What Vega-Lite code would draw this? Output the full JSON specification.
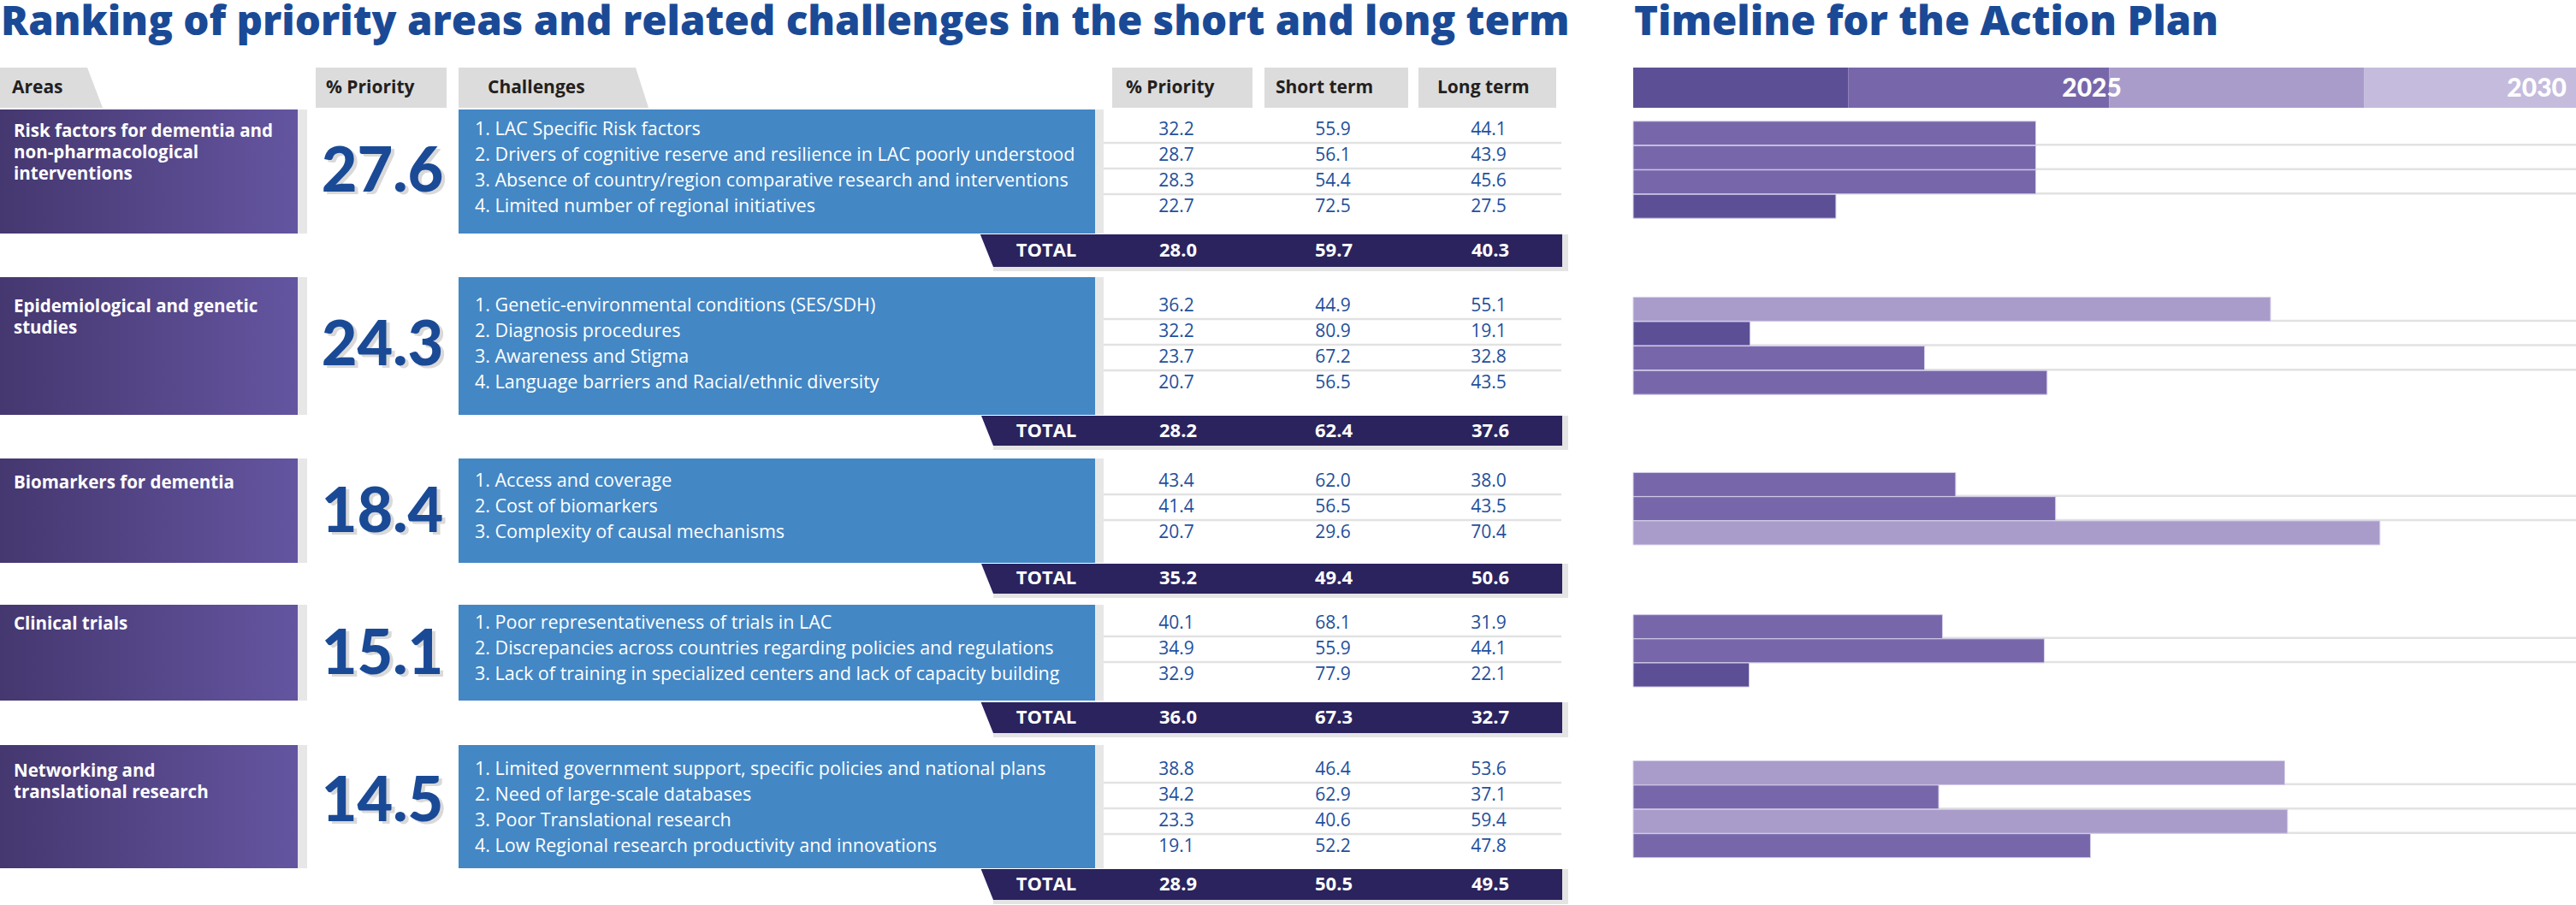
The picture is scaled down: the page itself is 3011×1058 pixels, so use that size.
{
"$schema":"https://vega.github.io/schema/vega-lite/v6.json",
"padding":0,
"background":"white",
"config":{"view":{"stroke":null},"axis":{"disable":true},"legend":{"disable":true},"text":{"font":"Open Sans"}},
"datasets":{
"rows":[
{"kind":"area","rank":1,"area":"Risk factors for dementia and\nnon-pharmacological\ninterventions","area_priority":27.6,"total_priority":28.0,"total_short":59.7,"total_long":40.3},
{"kind":"challenge","rank":1,"no":1,"challenge":"1. LAC Specific Risk factors","priority":32.2,"short":55.9,"long":44.1,"end":2024.27,"phase":"Phase 2"},
{"kind":"challenge","rank":1,"no":2,"challenge":"2. Drivers of cognitive reserve and resilience in LAC poorly understood","priority":28.7,"short":56.1,"long":43.9,"end":2024.27,"phase":"Phase 2"},
{"kind":"challenge","rank":1,"no":3,"challenge":"3. Absence of country/region comparative research and interventions","priority":28.3,"short":54.4,"long":45.6,"end":2024.27,"phase":"Phase 2"},
{"kind":"challenge","rank":1,"no":4,"challenge":"4. Limited number of regional initiatives","priority":22.7,"short":72.5,"long":27.5,"end":2022.15,"phase":"Phase 1"},
{"kind":"area","rank":2,"area":"Epidemiological and genetic\nstudies","area_priority":24.3,"total_priority":28.2,"total_short":62.4,"total_long":37.6},
{"kind":"challenge","rank":2,"no":1,"challenge":"1. Genetic-environmental conditions (SES/SDH)","priority":36.2,"short":44.9,"long":55.1,"end":2026.76,"phase":"Phase 3"},
{"kind":"challenge","rank":2,"no":2,"challenge":"2. Diagnosis procedures","priority":32.2,"short":80.9,"long":19.1,"end":2021.24,"phase":"Phase 1"},
{"kind":"challenge","rank":2,"no":3,"challenge":"3. Awareness and Stigma","priority":23.7,"short":67.2,"long":32.8,"end":2023.09,"phase":"Phase 2"},
{"kind":"challenge","rank":2,"no":4,"challenge":"4. Language barriers and Racial/ethnic diversity","priority":20.7,"short":56.5,"long":43.5,"end":2024.39,"phase":"Phase 2"},
{"kind":"area","rank":3,"area":"Biomarkers for dementia","area_priority":18.4,"total_priority":35.2,"total_short":49.4,"total_long":50.6},
{"kind":"challenge","rank":3,"no":1,"challenge":"1. Access and coverage","priority":43.4,"short":62.0,"long":38.0,"end":2023.42,"phase":"Phase 2"},
{"kind":"challenge","rank":3,"no":2,"challenge":"2. Cost of biomarkers","priority":41.4,"short":56.5,"long":43.5,"end":2024.48,"phase":"Phase 2"},
{"kind":"challenge","rank":3,"no":3,"challenge":"3. Complexity of causal mechanisms","priority":20.7,"short":29.6,"long":70.4,"end":2027.92,"phase":"Phase 3"},
{"kind":"area","rank":4,"area":"Clinical trials","area_priority":15.1,"total_priority":36.0,"total_short":67.3,"total_long":32.7},
{"kind":"challenge","rank":4,"no":1,"challenge":"1. Poor representativeness of trials in LAC","priority":40.1,"short":68.1,"long":31.9,"end":2023.28,"phase":"Phase 2"},
{"kind":"challenge","rank":4,"no":2,"challenge":"2. Discrepancies across countries regarding policies and regulations","priority":34.9,"short":55.9,"long":44.1,"end":2024.36,"phase":"Phase 2"},
{"kind":"challenge","rank":4,"no":3,"challenge":"3. Lack of training in specialized centers and lack of capacity building","priority":32.9,"short":77.9,"long":22.1,"end":2021.23,"phase":"Phase 1"},
{"kind":"area","rank":5,"area":"Networking and\ntranslational research","area_priority":14.5,"total_priority":28.9,"total_short":50.5,"total_long":49.5},
{"kind":"challenge","rank":5,"no":1,"challenge":"1. Limited government support, specific policies and national plans","priority":38.8,"short":46.4,"long":53.6,"end":2026.91,"phase":"Phase 3"},
{"kind":"challenge","rank":5,"no":2,"challenge":"2. Need of large-scale databases","priority":34.2,"short":62.9,"long":37.1,"end":2023.24,"phase":"Phase 2"},
{"kind":"challenge","rank":5,"no":3,"challenge":"3. Poor Translational research","priority":23.3,"short":40.6,"long":59.4,"end":2026.94,"phase":"Phase 3"},
{"kind":"challenge","rank":5,"no":4,"challenge":"4. Low Regional research productivity and innovations","priority":19.1,"short":52.2,"long":47.8,"end":2024.85,"phase":"Phase 2"}
],
"phases":[
{"phase":"Phase 1","from":2020,"to":2022.28},
{"phase":"Phase 2","from":2022.28,"to":2025.05},
{"phase":"Phase 3","from":2025.05,"to":2027.75},
{"phase":"Phase 4","from":2027.75,"to":2030}
]
},
"spacing":0,
"resolve":{"scale":{"x":"independent","y":"independent"}},
"vconcat":[
{"hconcat":[
{"width":1850,"height":128,"data":{"values":[{}]},
"layer":[
{"mark":{"type":"text","align":"left","baseline":"alphabetic","fontSize":47.5,"fontWeight":800,"color":"#1a4a96"},"encoding":{"x":{"datum":1,"scale":{"domain":[0,1850],"nice":false,"zero":false}},"y":{"datum":41,"scale":{"domain":[0,128],"reverse":true,"nice":false,"zero":false}},"text":{"value":"Ranking of priority areas and related challenges in the short and long term"}}},
{"mark":{"type":"rect","color":"#dcdcdc"},"encoding":{"x":{"datum":0},"x2":{"datum":102},"y":{"datum":79},"y2":{"datum":126}}},
{"mark":{"type":"point","shape":"M0,-1L0,1L0.766,1Z","filled":true,"opacity":1,"color":"#dcdcdc","size":2209,"strokeWidth":0},"encoding":{"x":{"datum":102},"y":{"datum":102.5}}},
{"mark":{"type":"text","align":"left","baseline":"middle","fontSize":21,"fontWeight":"bold","color":"#231f20"},"encoding":{"x":{"datum":14},"y":{"datum":103},"text":{"value":"Areas"}}},
{"mark":{"type":"rect","color":"#dcdcdc"},"encoding":{"x":{"datum":369},"x2":{"datum":522},"y":{"datum":79},"y2":{"datum":126}}},
{"mark":{"type":"text","align":"left","baseline":"middle","fontSize":21,"fontWeight":"bold","color":"#231f20"},"encoding":{"x":{"datum":381},"y":{"datum":103},"text":{"value":"% Priority"}}},
{"mark":{"type":"rect","color":"#dcdcdc"},"encoding":{"x":{"datum":536},"x2":{"datum":743},"y":{"datum":79},"y2":{"datum":126}}},
{"mark":{"type":"point","shape":"M0,-1L0,1L0.64,1Z","filled":true,"opacity":1,"color":"#dcdcdc","size":2209,"strokeWidth":0},"encoding":{"x":{"datum":743},"y":{"datum":102.5}}},
{"mark":{"type":"text","align":"left","baseline":"middle","fontSize":21,"fontWeight":"bold","color":"#231f20"},"encoding":{"x":{"datum":570},"y":{"datum":103},"text":{"value":"Challenges"}}},
{"mark":{"type":"rect","color":"#dcdcdc"},"encoding":{"x":{"datum":1300},"x2":{"datum":1464},"y":{"datum":79},"y2":{"datum":126}}},
{"mark":{"type":"text","align":"left","baseline":"middle","fontSize":21,"fontWeight":"bold","color":"#231f20"},"encoding":{"x":{"datum":1316},"y":{"datum":103},"text":{"value":"% Priority"}}},
{"mark":{"type":"rect","color":"#dcdcdc"},"encoding":{"x":{"datum":1478},"x2":{"datum":1646},"y":{"datum":79},"y2":{"datum":126}}},
{"mark":{"type":"text","align":"left","baseline":"middle","fontSize":21,"fontWeight":"bold","color":"#231f20"},"encoding":{"x":{"datum":1491},"y":{"datum":103},"text":{"value":"Short term"}}},
{"mark":{"type":"rect","color":"#dcdcdc"},"encoding":{"x":{"datum":1658},"x2":{"datum":1819},"y":{"datum":79},"y2":{"datum":126}}},
{"mark":{"type":"text","align":"left","baseline":"middle","fontSize":21,"fontWeight":"bold","color":"#231f20"},"encoding":{"x":{"datum":1680},"y":{"datum":103},"text":{"value":"Long term"}}}
]},
{"width":1102,"height":128,"data":{"values":[{}]},
"layer":[
{"mark":{"type":"text","align":"left","baseline":"alphabetic","dx":1,"fontSize":47.5,"fontWeight":800,"color":"#1a4a96"},"encoding":{"x":{"datum":2020,"scale":{"domain":[2020,2030],"nice":false,"zero":false}},"y":{"datum":41,"scale":{"domain":[0,128],"reverse":true,"nice":false,"zero":false}},"text":{"value":"Timeline for the Action Plan"}}},
{"data":{"name":"phases"},"mark":{"type":"rect"},"encoding":{"x":{"field":"from","type":"quantitative"},"x2":{"field":"to"},"y":{"datum":79},"y2":{"datum":126},"color":{"field":"phase","type":"nominal","scale":{"domain":["Phase 1","Phase 2","Phase 3","Phase 4"],"range":["#5c4f96","#7767aa","#a99cca","#c5bcdd"]},"legend":null}}},
{"mark":{"type":"text","align":"right","baseline":"middle","font":"Lato","fontSize":30,"fontWeight":900,"color":"#ffffff"},"encoding":{"x":{"datum":2025.18},"y":{"datum":104},"text":{"value":"2025"}}},
{"mark":{"type":"text","align":"right","baseline":"middle","font":"Lato","fontSize":30,"fontWeight":900,"color":"#ffffff"},"encoding":{"x":{"datum":2029.9},"y":{"datum":104},"text":{"value":"2030"}}}
]}
],"spacing":59,"bounds":"flush","resolve":{"scale":{"x":"independent","y":"independent"}}},

{"hconcat":[
{"width":1850,"height":196,"data":{"name":"rows"},"transform":[{"filter":"datum.rank == 1"}],
"layer":[
{"transform":[{"filter":"datum.kind == 'area'"}],"mark":{"type":"rect","color":"#e7e7e7"},"encoding":{"x":{"datum":0,"scale":{"domain":[0,1850],"nice":false,"zero":false}},"x2":{"datum":359},"y":{"datum":0.2,"scale":{"domain":[0.2,6.7333],"reverse":true,"nice":false,"zero":false}},"y2":{"datum":5.0333}}},
{"transform":[{"filter":"datum.kind == 'area'"}],"mark":{"type":"rect","fill":{"gradient":"linear","x1":0,"y1":0,"x2":1,"y2":0,"stops":[{"offset":0,"color":"#45376f"},{"offset":1,"color":"#6455a1"}]}},"encoding":{"x":{"datum":0},"x2":{"datum":348},"y":{"datum":0.2},"y2":{"datum":5.0333}}},
{"transform":[{"filter":"datum.kind == 'area'"}],"mark":{"type":"rect","color":"#e7e7e7"},"encoding":{"x":{"datum":536},"x2":{"datum":1290},"y":{"datum":0.2},"y2":{"datum":5.0333}}},
{"transform":[{"filter":"datum.kind == 'area'"}],"mark":{"type":"rect","color":"#4387c5"},"encoding":{"x":{"datum":536},"x2":{"datum":1280},"y":{"datum":0.2},"y2":{"datum":5.0333}}},
{"transform":[{"filter":"datum.kind == 'area'"}],"mark":{"type":"rect","color":"#e4e4e4"},"encoding":{"x":{"datum":1161},"x2":{"datum":1833},"y":{"datum":5.0667},"y2":{"datum":6.5}}},
{"transform":[{"filter":"datum.kind == 'area'"}],"mark":{"type":"rect","color":"#2a235e"},"encoding":{"x":{"datum":1161},"x2":{"datum":1826},"y":{"datum":5.0667},"y2":{"datum":6.3333}}},
{"transform":[{"filter":"datum.kind == 'area'"}],"mark":{"type":"point","shape":"M-0.8,-1L0,-1L0,1Z","filled":true,"opacity":1,"color":"#2a235e","size":1444,"strokeWidth":0},"encoding":{"x":{"datum":1161},"y":{"datum":5.7}}},
{"transform":[{"filter":"datum.kind == 'area'"}],"mark":{"type":"text","align":"left","baseline":"alphabetic","dy":7.5,"lineBreak":"\n","lineHeight":25,"fontSize":20.5,"fontWeight":"bold","color":"#ffffff"},"encoding":{"x":{"datum":16},"y":{"datum":1},"text":{"field":"area"}}},
{"transform":[{"filter":"datum.kind == 'area'"}],"mark":{"type":"text","align":"center","baseline":"middle","dx":4,"dy":7,"font":"Lato","fontSize":72,"fontWeight":900,"color":"#d9d9d9"},"encoding":{"x":{"datum":447},"y":{"datum":2.5333},"text":{"field":"area_priority","type":"quantitative","format":".1f"}}},
{"transform":[{"filter":"datum.kind == 'area'"}],"mark":{"type":"text","align":"center","baseline":"middle","dy":4,"font":"Lato","fontSize":72,"fontWeight":900,"color":"#1a4a96"},"encoding":{"x":{"datum":447},"y":{"datum":2.5333},"text":{"field":"area_priority","type":"quantitative","format":".1f"}}},
{"transform":[{"filter":"datum.kind == 'challenge' && datum.no > 1"}],"mark":{"type":"rule","color":"#e2e2e2","strokeWidth":2.5,"yOffset":-15},"encoding":{"x":{"datum":1290},"x2":{"datum":1825},"y":{"field":"no","type":"quantitative"}}},
{"transform":[{"filter":"datum.kind == 'challenge'"}],"mark":{"type":"text","align":"left","baseline":"middle","fontSize":21.5,"color":"#ffffff"},"encoding":{"x":{"datum":555},"y":{"field":"no","type":"quantitative"},"text":{"field":"challenge"}}},
{"transform":[{"filter":"datum.kind == 'challenge'"}],"mark":{"type":"text","align":"center","baseline":"middle","fontSize":21,"color":"#23509c"},"encoding":{"x":{"datum":1375},"y":{"field":"no","type":"quantitative"},"text":{"field":"priority","type":"quantitative","format":".1f"}}},
{"transform":[{"filter":"datum.kind == 'challenge'"}],"mark":{"type":"text","align":"center","baseline":"middle","fontSize":21,"color":"#23509c"},"encoding":{"x":{"datum":1558},"y":{"field":"no","type":"quantitative"},"text":{"field":"short","type":"quantitative","format":".1f"}}},
{"transform":[{"filter":"datum.kind == 'challenge'"}],"mark":{"type":"text","align":"center","baseline":"middle","fontSize":21,"color":"#23509c"},"encoding":{"x":{"datum":1740},"y":{"field":"no","type":"quantitative"},"text":{"field":"long","type":"quantitative","format":".1f"}}},
{"transform":[{"filter":"datum.kind == 'area'"}],"mark":{"type":"text","align":"center","baseline":"middle","fontSize":22,"fontWeight":"bold","color":"#ffffff"},"encoding":{"x":{"datum":1223},"y":{"datum":5.7},"text":{"value":"TOTAL"}}},
{"transform":[{"filter":"datum.kind == 'area'"}],"mark":{"type":"text","align":"center","baseline":"middle","fontSize":22,"fontWeight":"bold","color":"#ffffff"},"encoding":{"x":{"datum":1377},"y":{"datum":5.7},"text":{"field":"total_priority","type":"quantitative","format":".1f"}}},
{"transform":[{"filter":"datum.kind == 'area'"}],"mark":{"type":"text","align":"center","baseline":"middle","fontSize":22,"fontWeight":"bold","color":"#ffffff"},"encoding":{"x":{"datum":1559},"y":{"datum":5.7},"text":{"field":"total_short","type":"quantitative","format":".1f"}}},
{"transform":[{"filter":"datum.kind == 'area'"}],"mark":{"type":"text","align":"center","baseline":"middle","fontSize":22,"fontWeight":"bold","color":"#ffffff"},"encoding":{"x":{"datum":1742},"y":{"datum":5.7},"text":{"field":"total_long","type":"quantitative","format":".1f"}}}
]},
{"width":1102,"height":196,"data":{"name":"rows"},"transform":[{"filter":"datum.rank == 1 && datum.kind == 'challenge'"}],
"layer":[
{"transform":[{"filter":"datum.no > 1"}],"mark":{"type":"rule","color":"#e2e2e2","strokeWidth":2.5,"yOffset":-15},"encoding":{"x":{"datum":2020,"scale":{"domain":[2020,2030],"nice":false,"zero":false}},"x2":{"datum":2030},"y":{"field":"no","type":"quantitative","scale":{"domain":[0.2,6.7333],"reverse":true,"nice":false,"zero":false}}}},
{"mark":{"type":"bar","orient":"horizontal","height":28,"stroke":"#d3cce9","strokeWidth":1},"encoding":{"x":{"field":"end","type":"quantitative"},"x2":{"datum":2020},"y":{"field":"no","type":"quantitative"},"color":{"field":"phase","type":"nominal","scale":{"domain":["Phase 1","Phase 2","Phase 3","Phase 4"],"range":["#5c4f96","#7767aa","#a99cca","#c5bcdd"]},"legend":null}}}
]}
],"spacing":59,"bounds":"flush","resolve":{"scale":{"x":"independent","y":"independent"}}},

{"hconcat":[
{"width":1850,"height":212,"data":{"name":"rows"},"transform":[{"filter":"datum.rank == 2"}],
"layer":[
{"transform":[{"filter":"datum.kind == 'area'"}],"mark":{"type":"rect","color":"#e7e7e7"},"encoding":{"x":{"datum":0,"scale":{"domain":[0,1850],"nice":false,"zero":false}},"x2":{"datum":359},"y":{"datum":-0.1333,"scale":{"domain":[-0.1333,6.9333],"reverse":true,"nice":false,"zero":false}},"y2":{"datum":5.2333}}},
{"transform":[{"filter":"datum.kind == 'area'"}],"mark":{"type":"rect","fill":{"gradient":"linear","x1":0,"y1":0,"x2":1,"y2":0,"stops":[{"offset":0,"color":"#45376f"},{"offset":1,"color":"#6455a1"}]}},"encoding":{"x":{"datum":0},"x2":{"datum":348},"y":{"datum":-0.1333},"y2":{"datum":5.2333}}},
{"transform":[{"filter":"datum.kind == 'area'"}],"mark":{"type":"rect","color":"#e7e7e7"},"encoding":{"x":{"datum":536},"x2":{"datum":1290},"y":{"datum":-0.1333},"y2":{"datum":5.2333}}},
{"transform":[{"filter":"datum.kind == 'area'"}],"mark":{"type":"rect","color":"#4387c5"},"encoding":{"x":{"datum":536},"x2":{"datum":1280},"y":{"datum":-0.1333},"y2":{"datum":5.2333}}},
{"transform":[{"filter":"datum.kind == 'area'"}],"mark":{"type":"rect","color":"#e4e4e4"},"encoding":{"x":{"datum":1161},"x2":{"datum":1833},"y":{"datum":5.2667},"y2":{"datum":6.6}}},
{"transform":[{"filter":"datum.kind == 'area'"}],"mark":{"type":"rect","color":"#2a235e"},"encoding":{"x":{"datum":1161},"x2":{"datum":1826},"y":{"datum":5.2667},"y2":{"datum":6.4333}}},
{"transform":[{"filter":"datum.kind == 'area'"}],"mark":{"type":"point","shape":"M-0.8,-1L0,-1L0,1Z","filled":true,"opacity":1,"color":"#2a235e","size":1225,"strokeWidth":0},"encoding":{"x":{"datum":1161},"y":{"datum":5.85}}},
{"transform":[{"filter":"datum.kind == 'area'"}],"mark":{"type":"text","align":"left","baseline":"alphabetic","dy":7.5,"lineBreak":"\n","lineHeight":25,"fontSize":20.5,"fontWeight":"bold","color":"#ffffff"},"encoding":{"x":{"datum":16},"y":{"datum":1},"text":{"field":"area"}}},
{"transform":[{"filter":"datum.kind == 'area'"}],"mark":{"type":"text","align":"center","baseline":"middle","dx":4,"dy":7,"font":"Lato","fontSize":72,"fontWeight":900,"color":"#d9d9d9"},"encoding":{"x":{"datum":447},"y":{"datum":2.4333},"text":{"field":"area_priority","type":"quantitative","format":".1f"}}},
{"transform":[{"filter":"datum.kind == 'area'"}],"mark":{"type":"text","align":"center","baseline":"middle","dy":4,"font":"Lato","fontSize":72,"fontWeight":900,"color":"#1a4a96"},"encoding":{"x":{"datum":447},"y":{"datum":2.4333},"text":{"field":"area_priority","type":"quantitative","format":".1f"}}},
{"transform":[{"filter":"datum.kind == 'challenge' && datum.no > 1"}],"mark":{"type":"rule","color":"#e2e2e2","strokeWidth":2.5,"yOffset":-15},"encoding":{"x":{"datum":1290},"x2":{"datum":1825},"y":{"field":"no","type":"quantitative"}}},
{"transform":[{"filter":"datum.kind == 'challenge'"}],"mark":{"type":"text","align":"left","baseline":"middle","fontSize":21.5,"color":"#ffffff"},"encoding":{"x":{"datum":555},"y":{"field":"no","type":"quantitative"},"text":{"field":"challenge"}}},
{"transform":[{"filter":"datum.kind == 'challenge'"}],"mark":{"type":"text","align":"center","baseline":"middle","fontSize":21,"color":"#23509c"},"encoding":{"x":{"datum":1375},"y":{"field":"no","type":"quantitative"},"text":{"field":"priority","type":"quantitative","format":".1f"}}},
{"transform":[{"filter":"datum.kind == 'challenge'"}],"mark":{"type":"text","align":"center","baseline":"middle","fontSize":21,"color":"#23509c"},"encoding":{"x":{"datum":1558},"y":{"field":"no","type":"quantitative"},"text":{"field":"short","type":"quantitative","format":".1f"}}},
{"transform":[{"filter":"datum.kind == 'challenge'"}],"mark":{"type":"text","align":"center","baseline":"middle","fontSize":21,"color":"#23509c"},"encoding":{"x":{"datum":1740},"y":{"field":"no","type":"quantitative"},"text":{"field":"long","type":"quantitative","format":".1f"}}},
{"transform":[{"filter":"datum.kind == 'area'"}],"mark":{"type":"text","align":"center","baseline":"middle","fontSize":22,"fontWeight":"bold","color":"#ffffff"},"encoding":{"x":{"datum":1223},"y":{"datum":5.85},"text":{"value":"TOTAL"}}},
{"transform":[{"filter":"datum.kind == 'area'"}],"mark":{"type":"text","align":"center","baseline":"middle","fontSize":22,"fontWeight":"bold","color":"#ffffff"},"encoding":{"x":{"datum":1377},"y":{"datum":5.85},"text":{"field":"total_priority","type":"quantitative","format":".1f"}}},
{"transform":[{"filter":"datum.kind == 'area'"}],"mark":{"type":"text","align":"center","baseline":"middle","fontSize":22,"fontWeight":"bold","color":"#ffffff"},"encoding":{"x":{"datum":1559},"y":{"datum":5.85},"text":{"field":"total_short","type":"quantitative","format":".1f"}}},
{"transform":[{"filter":"datum.kind == 'area'"}],"mark":{"type":"text","align":"center","baseline":"middle","fontSize":22,"fontWeight":"bold","color":"#ffffff"},"encoding":{"x":{"datum":1742},"y":{"datum":5.85},"text":{"field":"total_long","type":"quantitative","format":".1f"}}}
]},
{"width":1102,"height":212,"data":{"name":"rows"},"transform":[{"filter":"datum.rank == 2 && datum.kind == 'challenge'"}],
"layer":[
{"transform":[{"filter":"datum.no > 1"}],"mark":{"type":"rule","color":"#e2e2e2","strokeWidth":2.5,"yOffset":-15},"encoding":{"x":{"datum":2020,"scale":{"domain":[2020,2030],"nice":false,"zero":false}},"x2":{"datum":2030},"y":{"field":"no","type":"quantitative","scale":{"domain":[-0.1333,6.9333],"reverse":true,"nice":false,"zero":false}}}},
{"mark":{"type":"bar","orient":"horizontal","height":28,"stroke":"#d3cce9","strokeWidth":1},"encoding":{"x":{"field":"end","type":"quantitative"},"x2":{"datum":2020},"y":{"field":"no","type":"quantitative"},"color":{"field":"phase","type":"nominal","scale":{"domain":["Phase 1","Phase 2","Phase 3","Phase 4"],"range":["#5c4f96","#7767aa","#a99cca","#c5bcdd"]},"legend":null}}}
]}
],"spacing":59,"bounds":"flush","resolve":{"scale":{"x":"independent","y":"independent"}}},

{"hconcat":[
{"width":1850,"height":171,"data":{"name":"rows"},"transform":[{"filter":"datum.rank == 3"}],
"layer":[
{"transform":[{"filter":"datum.kind == 'area'"}],"mark":{"type":"rect","color":"#e7e7e7"},"encoding":{"x":{"datum":0,"scale":{"domain":[0,1850],"nice":false,"zero":false}},"x2":{"datum":359},"y":{"datum":0.1,"scale":{"domain":[0.1,5.8],"reverse":true,"nice":false,"zero":false}},"y2":{"datum":4.1667}}},
{"transform":[{"filter":"datum.kind == 'area'"}],"mark":{"type":"rect","fill":{"gradient":"linear","x1":0,"y1":0,"x2":1,"y2":0,"stops":[{"offset":0,"color":"#45376f"},{"offset":1,"color":"#6455a1"}]}},"encoding":{"x":{"datum":0},"x2":{"datum":348},"y":{"datum":0.1},"y2":{"datum":4.1667}}},
{"transform":[{"filter":"datum.kind == 'area'"}],"mark":{"type":"rect","color":"#e7e7e7"},"encoding":{"x":{"datum":536},"x2":{"datum":1290},"y":{"datum":0.1},"y2":{"datum":4.1667}}},
{"transform":[{"filter":"datum.kind == 'area'"}],"mark":{"type":"rect","color":"#4387c5"},"encoding":{"x":{"datum":536},"x2":{"datum":1280},"y":{"datum":0.1},"y2":{"datum":4.1667}}},
{"transform":[{"filter":"datum.kind == 'area'"}],"mark":{"type":"rect","color":"#e4e4e4"},"encoding":{"x":{"datum":1161},"x2":{"datum":1833},"y":{"datum":4.2},"y2":{"datum":5.5333}}},
{"transform":[{"filter":"datum.kind == 'area'"}],"mark":{"type":"rect","color":"#2a235e"},"encoding":{"x":{"datum":1161},"x2":{"datum":1826},"y":{"datum":4.2},"y2":{"datum":5.3667}}},
{"transform":[{"filter":"datum.kind == 'area'"}],"mark":{"type":"point","shape":"M-0.8,-1L0,-1L0,1Z","filled":true,"opacity":1,"color":"#2a235e","size":1225,"strokeWidth":0},"encoding":{"x":{"datum":1161},"y":{"datum":4.7833}}},
{"transform":[{"filter":"datum.kind == 'area'"}],"mark":{"type":"text","align":"left","baseline":"alphabetic","dy":7.5,"lineBreak":"\n","lineHeight":25,"fontSize":20.5,"fontWeight":"bold","color":"#ffffff"},"encoding":{"x":{"datum":16},"y":{"datum":1},"text":{"field":"area"}}},
{"transform":[{"filter":"datum.kind == 'area'"}],"mark":{"type":"text","align":"center","baseline":"middle","dx":4,"dy":7,"font":"Lato","fontSize":72,"fontWeight":900,"color":"#d9d9d9"},"encoding":{"x":{"datum":447},"y":{"datum":2.1},"text":{"field":"area_priority","type":"quantitative","format":".1f"}}},
{"transform":[{"filter":"datum.kind == 'area'"}],"mark":{"type":"text","align":"center","baseline":"middle","dy":4,"font":"Lato","fontSize":72,"fontWeight":900,"color":"#1a4a96"},"encoding":{"x":{"datum":447},"y":{"datum":2.1},"text":{"field":"area_priority","type":"quantitative","format":".1f"}}},
{"transform":[{"filter":"datum.kind == 'challenge' && datum.no > 1"}],"mark":{"type":"rule","color":"#e2e2e2","strokeWidth":2.5,"yOffset":-15},"encoding":{"x":{"datum":1290},"x2":{"datum":1825},"y":{"field":"no","type":"quantitative"}}},
{"transform":[{"filter":"datum.kind == 'challenge'"}],"mark":{"type":"text","align":"left","baseline":"middle","fontSize":21.5,"color":"#ffffff"},"encoding":{"x":{"datum":555},"y":{"field":"no","type":"quantitative"},"text":{"field":"challenge"}}},
{"transform":[{"filter":"datum.kind == 'challenge'"}],"mark":{"type":"text","align":"center","baseline":"middle","fontSize":21,"color":"#23509c"},"encoding":{"x":{"datum":1375},"y":{"field":"no","type":"quantitative"},"text":{"field":"priority","type":"quantitative","format":".1f"}}},
{"transform":[{"filter":"datum.kind == 'challenge'"}],"mark":{"type":"text","align":"center","baseline":"middle","fontSize":21,"color":"#23509c"},"encoding":{"x":{"datum":1558},"y":{"field":"no","type":"quantitative"},"text":{"field":"short","type":"quantitative","format":".1f"}}},
{"transform":[{"filter":"datum.kind == 'challenge'"}],"mark":{"type":"text","align":"center","baseline":"middle","fontSize":21,"color":"#23509c"},"encoding":{"x":{"datum":1740},"y":{"field":"no","type":"quantitative"},"text":{"field":"long","type":"quantitative","format":".1f"}}},
{"transform":[{"filter":"datum.kind == 'area'"}],"mark":{"type":"text","align":"center","baseline":"middle","fontSize":22,"fontWeight":"bold","color":"#ffffff"},"encoding":{"x":{"datum":1223},"y":{"datum":4.7833},"text":{"value":"TOTAL"}}},
{"transform":[{"filter":"datum.kind == 'area'"}],"mark":{"type":"text","align":"center","baseline":"middle","fontSize":22,"fontWeight":"bold","color":"#ffffff"},"encoding":{"x":{"datum":1377},"y":{"datum":4.7833},"text":{"field":"total_priority","type":"quantitative","format":".1f"}}},
{"transform":[{"filter":"datum.kind == 'area'"}],"mark":{"type":"text","align":"center","baseline":"middle","fontSize":22,"fontWeight":"bold","color":"#ffffff"},"encoding":{"x":{"datum":1559},"y":{"datum":4.7833},"text":{"field":"total_short","type":"quantitative","format":".1f"}}},
{"transform":[{"filter":"datum.kind == 'area'"}],"mark":{"type":"text","align":"center","baseline":"middle","fontSize":22,"fontWeight":"bold","color":"#ffffff"},"encoding":{"x":{"datum":1742},"y":{"datum":4.7833},"text":{"field":"total_long","type":"quantitative","format":".1f"}}}
]},
{"width":1102,"height":171,"data":{"name":"rows"},"transform":[{"filter":"datum.rank == 3 && datum.kind == 'challenge'"}],
"layer":[
{"transform":[{"filter":"datum.no > 1"}],"mark":{"type":"rule","color":"#e2e2e2","strokeWidth":2.5,"yOffset":-15},"encoding":{"x":{"datum":2020,"scale":{"domain":[2020,2030],"nice":false,"zero":false}},"x2":{"datum":2030},"y":{"field":"no","type":"quantitative","scale":{"domain":[0.1,5.8],"reverse":true,"nice":false,"zero":false}}}},
{"mark":{"type":"bar","orient":"horizontal","height":28,"stroke":"#d3cce9","strokeWidth":1},"encoding":{"x":{"field":"end","type":"quantitative"},"x2":{"datum":2020},"y":{"field":"no","type":"quantitative"},"color":{"field":"phase","type":"nominal","scale":{"domain":["Phase 1","Phase 2","Phase 3","Phase 4"],"range":["#5c4f96","#7767aa","#a99cca","#c5bcdd"]},"legend":null}}}
]}
],"spacing":59,"bounds":"flush","resolve":{"scale":{"x":"independent","y":"independent"}}},

{"hconcat":[
{"width":1850,"height":164,"data":{"name":"rows"},"transform":[{"filter":"datum.rank == 4"}],
"layer":[
{"transform":[{"filter":"datum.kind == 'area'"}],"mark":{"type":"rect","color":"#e7e7e7"},"encoding":{"x":{"datum":0,"scale":{"domain":[0,1850],"nice":false,"zero":false}},"x2":{"datum":359},"y":{"datum":0.2667,"scale":{"domain":[0.2667,5.7333],"reverse":true,"nice":false,"zero":false}},"y2":{"datum":4.0}}},
{"transform":[{"filter":"datum.kind == 'area'"}],"mark":{"type":"rect","fill":{"gradient":"linear","x1":0,"y1":0,"x2":1,"y2":0,"stops":[{"offset":0,"color":"#45376f"},{"offset":1,"color":"#6455a1"}]}},"encoding":{"x":{"datum":0},"x2":{"datum":348},"y":{"datum":0.2667},"y2":{"datum":4.0}}},
{"transform":[{"filter":"datum.kind == 'area'"}],"mark":{"type":"rect","color":"#e7e7e7"},"encoding":{"x":{"datum":536},"x2":{"datum":1290},"y":{"datum":0.2667},"y2":{"datum":4.0}}},
{"transform":[{"filter":"datum.kind == 'area'"}],"mark":{"type":"rect","color":"#4387c5"},"encoding":{"x":{"datum":536},"x2":{"datum":1280},"y":{"datum":0.2667},"y2":{"datum":4.0}}},
{"transform":[{"filter":"datum.kind == 'area'"}],"mark":{"type":"rect","color":"#e4e4e4"},"encoding":{"x":{"datum":1161},"x2":{"datum":1833},"y":{"datum":4.0667},"y2":{"datum":5.4333}}},
{"transform":[{"filter":"datum.kind == 'area'"}],"mark":{"type":"rect","color":"#2a235e"},"encoding":{"x":{"datum":1161},"x2":{"datum":1826},"y":{"datum":4.0667},"y2":{"datum":5.2667}}},
{"transform":[{"filter":"datum.kind == 'area'"}],"mark":{"type":"point","shape":"M-0.8,-1L0,-1L0,1Z","filled":true,"opacity":1,"color":"#2a235e","size":1296,"strokeWidth":0},"encoding":{"x":{"datum":1161},"y":{"datum":4.6667}}},
{"transform":[{"filter":"datum.kind == 'area'"}],"mark":{"type":"text","align":"left","baseline":"alphabetic","dy":7.5,"lineBreak":"\n","lineHeight":25,"fontSize":20.5,"fontWeight":"bold","color":"#ffffff"},"encoding":{"x":{"datum":16},"y":{"datum":1},"text":{"field":"area"}}},
{"transform":[{"filter":"datum.kind == 'area'"}],"mark":{"type":"text","align":"center","baseline":"middle","dx":4,"dy":7,"font":"Lato","fontSize":72,"fontWeight":900,"color":"#d9d9d9"},"encoding":{"x":{"datum":447},"y":{"datum":2.1},"text":{"field":"area_priority","type":"quantitative","format":".1f"}}},
{"transform":[{"filter":"datum.kind == 'area'"}],"mark":{"type":"text","align":"center","baseline":"middle","dy":4,"font":"Lato","fontSize":72,"fontWeight":900,"color":"#1a4a96"},"encoding":{"x":{"datum":447},"y":{"datum":2.1},"text":{"field":"area_priority","type":"quantitative","format":".1f"}}},
{"transform":[{"filter":"datum.kind == 'challenge' && datum.no > 1"}],"mark":{"type":"rule","color":"#e2e2e2","strokeWidth":2.5,"yOffset":-15},"encoding":{"x":{"datum":1290},"x2":{"datum":1825},"y":{"field":"no","type":"quantitative"}}},
{"transform":[{"filter":"datum.kind == 'challenge'"}],"mark":{"type":"text","align":"left","baseline":"middle","fontSize":21.5,"color":"#ffffff"},"encoding":{"x":{"datum":555},"y":{"field":"no","type":"quantitative"},"text":{"field":"challenge"}}},
{"transform":[{"filter":"datum.kind == 'challenge'"}],"mark":{"type":"text","align":"center","baseline":"middle","fontSize":21,"color":"#23509c"},"encoding":{"x":{"datum":1375},"y":{"field":"no","type":"quantitative"},"text":{"field":"priority","type":"quantitative","format":".1f"}}},
{"transform":[{"filter":"datum.kind == 'challenge'"}],"mark":{"type":"text","align":"center","baseline":"middle","fontSize":21,"color":"#23509c"},"encoding":{"x":{"datum":1558},"y":{"field":"no","type":"quantitative"},"text":{"field":"short","type":"quantitative","format":".1f"}}},
{"transform":[{"filter":"datum.kind == 'challenge'"}],"mark":{"type":"text","align":"center","baseline":"middle","fontSize":21,"color":"#23509c"},"encoding":{"x":{"datum":1740},"y":{"field":"no","type":"quantitative"},"text":{"field":"long","type":"quantitative","format":".1f"}}},
{"transform":[{"filter":"datum.kind == 'area'"}],"mark":{"type":"text","align":"center","baseline":"middle","fontSize":22,"fontWeight":"bold","color":"#ffffff"},"encoding":{"x":{"datum":1223},"y":{"datum":4.6667},"text":{"value":"TOTAL"}}},
{"transform":[{"filter":"datum.kind == 'area'"}],"mark":{"type":"text","align":"center","baseline":"middle","fontSize":22,"fontWeight":"bold","color":"#ffffff"},"encoding":{"x":{"datum":1377},"y":{"datum":4.6667},"text":{"field":"total_priority","type":"quantitative","format":".1f"}}},
{"transform":[{"filter":"datum.kind == 'area'"}],"mark":{"type":"text","align":"center","baseline":"middle","fontSize":22,"fontWeight":"bold","color":"#ffffff"},"encoding":{"x":{"datum":1559},"y":{"datum":4.6667},"text":{"field":"total_short","type":"quantitative","format":".1f"}}},
{"transform":[{"filter":"datum.kind == 'area'"}],"mark":{"type":"text","align":"center","baseline":"middle","fontSize":22,"fontWeight":"bold","color":"#ffffff"},"encoding":{"x":{"datum":1742},"y":{"datum":4.6667},"text":{"field":"total_long","type":"quantitative","format":".1f"}}}
]},
{"width":1102,"height":164,"data":{"name":"rows"},"transform":[{"filter":"datum.rank == 4 && datum.kind == 'challenge'"}],
"layer":[
{"transform":[{"filter":"datum.no > 1"}],"mark":{"type":"rule","color":"#e2e2e2","strokeWidth":2.5,"yOffset":-15},"encoding":{"x":{"datum":2020,"scale":{"domain":[2020,2030],"nice":false,"zero":false}},"x2":{"datum":2030},"y":{"field":"no","type":"quantitative","scale":{"domain":[0.2667,5.7333],"reverse":true,"nice":false,"zero":false}}}},
{"mark":{"type":"bar","orient":"horizontal","height":28,"stroke":"#d3cce9","strokeWidth":1},"encoding":{"x":{"field":"end","type":"quantitative"},"x2":{"datum":2020},"y":{"field":"no","type":"quantitative"},"color":{"field":"phase","type":"nominal","scale":{"domain":["Phase 1","Phase 2","Phase 3","Phase 4"],"range":["#5c4f96","#7767aa","#a99cca","#c5bcdd"]},"legend":null}}}
]}
],"spacing":59,"bounds":"flush","resolve":{"scale":{"x":"independent","y":"independent"}}},

{"hconcat":[
{"width":1850,"height":187,"data":{"name":"rows"},"transform":[{"filter":"datum.rank == 5"}],
"layer":[
{"transform":[{"filter":"datum.kind == 'area'"}],"mark":{"type":"rect","color":"#e7e7e7"},"encoding":{"x":{"datum":0,"scale":{"domain":[0,1850],"nice":false,"zero":false}},"x2":{"datum":359},"y":{"datum":0.0333,"scale":{"domain":[0.0333,6.2667],"reverse":true,"nice":false,"zero":false}},"y2":{"datum":4.8333}}},
{"transform":[{"filter":"datum.kind == 'area'"}],"mark":{"type":"rect","fill":{"gradient":"linear","x1":0,"y1":0,"x2":1,"y2":0,"stops":[{"offset":0,"color":"#45376f"},{"offset":1,"color":"#6455a1"}]}},"encoding":{"x":{"datum":0},"x2":{"datum":348},"y":{"datum":0.0333},"y2":{"datum":4.8333}}},
{"transform":[{"filter":"datum.kind == 'area'"}],"mark":{"type":"rect","color":"#e7e7e7"},"encoding":{"x":{"datum":536},"x2":{"datum":1290},"y":{"datum":0.0333},"y2":{"datum":4.8333}}},
{"transform":[{"filter":"datum.kind == 'area'"}],"mark":{"type":"rect","color":"#4387c5"},"encoding":{"x":{"datum":536},"x2":{"datum":1280},"y":{"datum":0.0333},"y2":{"datum":4.8333}}},
{"transform":[{"filter":"datum.kind == 'area'"}],"mark":{"type":"rect","color":"#e4e4e4"},"encoding":{"x":{"datum":1161},"x2":{"datum":1833},"y":{"datum":4.8667},"y2":{"datum":6.2333}}},
{"transform":[{"filter":"datum.kind == 'area'"}],"mark":{"type":"rect","color":"#2a235e"},"encoding":{"x":{"datum":1161},"x2":{"datum":1826},"y":{"datum":4.8667},"y2":{"datum":6.0667}}},
{"transform":[{"filter":"datum.kind == 'area'"}],"mark":{"type":"point","shape":"M-0.8,-1L0,-1L0,1Z","filled":true,"opacity":1,"color":"#2a235e","size":1296,"strokeWidth":0},"encoding":{"x":{"datum":1161},"y":{"datum":5.4667}}},
{"transform":[{"filter":"datum.kind == 'area'"}],"mark":{"type":"text","align":"left","baseline":"alphabetic","dy":7.5,"lineBreak":"\n","lineHeight":25,"fontSize":20.5,"fontWeight":"bold","color":"#ffffff"},"encoding":{"x":{"datum":16},"y":{"datum":1},"text":{"field":"area"}}},
{"transform":[{"filter":"datum.kind == 'area'"}],"mark":{"type":"text","align":"center","baseline":"middle","dx":4,"dy":7,"font":"Lato","fontSize":72,"fontWeight":900,"color":"#d9d9d9"},"encoding":{"x":{"datum":447},"y":{"datum":2.1333},"text":{"field":"area_priority","type":"quantitative","format":".1f"}}},
{"transform":[{"filter":"datum.kind == 'area'"}],"mark":{"type":"text","align":"center","baseline":"middle","dy":4,"font":"Lato","fontSize":72,"fontWeight":900,"color":"#1a4a96"},"encoding":{"x":{"datum":447},"y":{"datum":2.1333},"text":{"field":"area_priority","type":"quantitative","format":".1f"}}},
{"transform":[{"filter":"datum.kind == 'challenge' && datum.no > 1"}],"mark":{"type":"rule","color":"#e2e2e2","strokeWidth":2.5,"yOffset":-15},"encoding":{"x":{"datum":1290},"x2":{"datum":1825},"y":{"field":"no","type":"quantitative"}}},
{"transform":[{"filter":"datum.kind == 'challenge'"}],"mark":{"type":"text","align":"left","baseline":"middle","fontSize":21.5,"color":"#ffffff"},"encoding":{"x":{"datum":555},"y":{"field":"no","type":"quantitative"},"text":{"field":"challenge"}}},
{"transform":[{"filter":"datum.kind == 'challenge'"}],"mark":{"type":"text","align":"center","baseline":"middle","fontSize":21,"color":"#23509c"},"encoding":{"x":{"datum":1375},"y":{"field":"no","type":"quantitative"},"text":{"field":"priority","type":"quantitative","format":".1f"}}},
{"transform":[{"filter":"datum.kind == 'challenge'"}],"mark":{"type":"text","align":"center","baseline":"middle","fontSize":21,"color":"#23509c"},"encoding":{"x":{"datum":1558},"y":{"field":"no","type":"quantitative"},"text":{"field":"short","type":"quantitative","format":".1f"}}},
{"transform":[{"filter":"datum.kind == 'challenge'"}],"mark":{"type":"text","align":"center","baseline":"middle","fontSize":21,"color":"#23509c"},"encoding":{"x":{"datum":1740},"y":{"field":"no","type":"quantitative"},"text":{"field":"long","type":"quantitative","format":".1f"}}},
{"transform":[{"filter":"datum.kind == 'area'"}],"mark":{"type":"text","align":"center","baseline":"middle","fontSize":22,"fontWeight":"bold","color":"#ffffff"},"encoding":{"x":{"datum":1223},"y":{"datum":5.4667},"text":{"value":"TOTAL"}}},
{"transform":[{"filter":"datum.kind == 'area'"}],"mark":{"type":"text","align":"center","baseline":"middle","fontSize":22,"fontWeight":"bold","color":"#ffffff"},"encoding":{"x":{"datum":1377},"y":{"datum":5.4667},"text":{"field":"total_priority","type":"quantitative","format":".1f"}}},
{"transform":[{"filter":"datum.kind == 'area'"}],"mark":{"type":"text","align":"center","baseline":"middle","fontSize":22,"fontWeight":"bold","color":"#ffffff"},"encoding":{"x":{"datum":1559},"y":{"datum":5.4667},"text":{"field":"total_short","type":"quantitative","format":".1f"}}},
{"transform":[{"filter":"datum.kind == 'area'"}],"mark":{"type":"text","align":"center","baseline":"middle","fontSize":22,"fontWeight":"bold","color":"#ffffff"},"encoding":{"x":{"datum":1742},"y":{"datum":5.4667},"text":{"field":"total_long","type":"quantitative","format":".1f"}}}
]},
{"width":1102,"height":187,"data":{"name":"rows"},"transform":[{"filter":"datum.rank == 5 && datum.kind == 'challenge'"}],
"layer":[
{"transform":[{"filter":"datum.no > 1"}],"mark":{"type":"rule","color":"#e2e2e2","strokeWidth":2.5,"yOffset":-15},"encoding":{"x":{"datum":2020,"scale":{"domain":[2020,2030],"nice":false,"zero":false}},"x2":{"datum":2030},"y":{"field":"no","type":"quantitative","scale":{"domain":[0.0333,6.2667],"reverse":true,"nice":false,"zero":false}}}},
{"mark":{"type":"bar","orient":"horizontal","height":28,"stroke":"#d3cce9","strokeWidth":1},"encoding":{"x":{"field":"end","type":"quantitative"},"x2":{"datum":2020},"y":{"field":"no","type":"quantitative"},"color":{"field":"phase","type":"nominal","scale":{"domain":["Phase 1","Phase 2","Phase 3","Phase 4"],"range":["#5c4f96","#7767aa","#a99cca","#c5bcdd"]},"legend":null}}}
]}
],"spacing":59,"bounds":"flush","resolve":{"scale":{"x":"independent","y":"independent"}}}
]
}
